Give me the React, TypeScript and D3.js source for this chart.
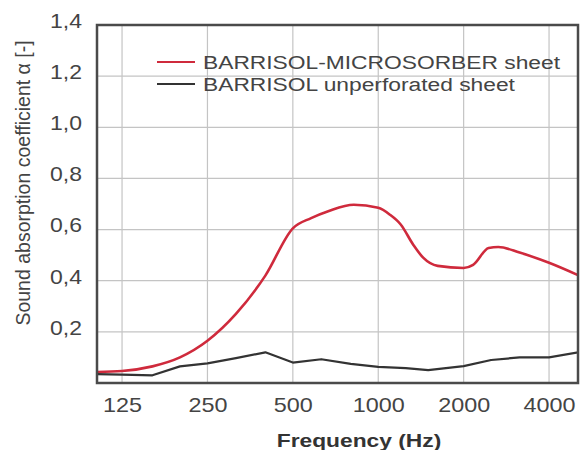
import React, { useEffect, useRef } from "react";
import * as d3 from "d3";

// octave band centres shown on the axis
const freqTicks = [125, 250, 500, 1000, 2000, 4000];
const alphaTicks = [0.2, 0.4, 0.6, 0.8, 1.0, 1.2, 1.4];

// BARRISOL-MICROSORBER sheet
const microFreq = [100, 125, 160, 200, 250, 315, 400, 500, 580, 670, 820, 1000, 1100, 1200, 1330, 1440, 1620, 2000, 2160, 2450, 2650, 3150, 4000, 5100];
const microAlpha = [0.043, 0.047, 0.065, 0.1, 0.165, 0.27, 0.42, 0.605, 0.645, 0.673, 0.697, 0.685, 0.658, 0.62, 0.54, 0.49, 0.458, 0.45, 0.462, 0.528, 0.532, 0.51, 0.47, 0.42];

// BARRISOL unperforated sheet
const plainFreq = [100, 125, 160, 200, 250, 315, 400, 500, 630, 800, 1000, 1250, 1500, 2000, 2500, 3150, 4000, 5100];
const plainAlpha = [0.035, 0.033, 0.03, 0.065, 0.077, 0.097, 0.12, 0.08, 0.093, 0.075, 0.063, 0.058, 0.05, 0.066, 0.09, 0.1, 0.1, 0.12];

const legendLabels = ["BARRISOL-MICROSORBER sheet", "BARRISOL unperforated sheet"];
const colors = ["#cf2a3c", "#333333"];

const W = 580;
const H = 450;
const m = { left: 97, top: 25, right: 578, bottom: 383 };
const FONT = "'Liberation Sans', Arial, sans-serif";

const App: React.FC = () => {
  const svgRef = useRef(null);

  useEffect(() => {
    const svg = d3.select(svgRef.current).attr("width", W).attr("height", H);
    svg.selectAll("*").remove();

    const x = d3.scaleLog().base(2).domain([102, 5060]).range([m.left, m.right]);
    const y = d3.scaleLinear().domain([0, 1.4]).range([m.bottom, m.top]);

    svg.append("rect").attr("width", W).attr("height", H).attr("fill", "#fff");

    // grid
    svg
      .append("g")
      .selectAll("line")
      .data(freqTicks)
      .enter()
      .append("line")
      .attr("x1", (d) => x(d))
      .attr("x2", (d) => x(d))
      .attr("y1", m.top)
      .attr("y2", m.bottom)
      .attr("stroke", "#c4c4c4")
      .attr("stroke-width", 1.2);
    svg
      .append("g")
      .selectAll("line")
      .data(alphaTicks)
      .enter()
      .append("line")
      .attr("x1", m.left)
      .attr("x2", m.right)
      .attr("y1", (d) => y(d))
      .attr("y2", (d) => y(d))
      .attr("stroke", "#c4c4c4")
      .attr("stroke-width", 1.2);

    // axes labels through d3 axes
    const xAxis = d3
      .axisBottom(x)
      .tickValues(freqTicks)
      .tickSize(0)
      .tickFormat((d) => String(d));
    const gx = svg.append("g").attr("transform", `translate(0, ${m.bottom})`).call(xAxis);
    gx.select(".domain").remove();
    gx.selectAll("text")
      .attr("y", 29)
      .attr("dy", 0)
      .attr("transform", "scale(1.17,1)")
      .style("font-family", FONT)
      .style("font-size", "20px")
      .style("fill", "#444");

    const yAxis = d3
      .axisLeft(y)
      .tickValues(alphaTicks)
      .tickSize(0)
      .tickFormat((d) => d3.format(".1f")(d as number).replace(".", ","));
    const gy = svg.append("g").attr("transform", `translate(${m.left - 15}, 0)`).call(yAxis);
    gy.select(".domain").remove();
    gy.selectAll("text")
      .attr("x", 0)
      .attr("dy", "0.12em")
      .attr("transform", "scale(1.15,1)")
      .style("font-family", FONT)
      .style("font-size", "20px")
      .style("fill", "#444");

    // curves
    svg
      .append("clipPath")
      .attr("id", "plotclip")
      .append("rect")
      .attr("x", m.left)
      .attr("y", m.top)
      .attr("width", m.right - m.left)
      .attr("height", m.bottom - m.top);

    const series = [
      { f: microFreq, a: microAlpha, curve: d3.curveMonotoneX, w: 2.6 },
      { f: plainFreq, a: plainAlpha, curve: d3.curveLinear, w: 2.2 },
    ];
    series.forEach((s, i) => {
      const pts: [number, number][] = s.f.map((f, k) => [f, s.a[k]]);
      const line = d3
        .line<[number, number]>()
        .x((d) => x(d[0]))
        .y((d) => y(d[1]))
        .curve(s.curve);
      svg
        .append("path")
        .attr("clip-path", "url(#plotclip)")
        .attr("d", line(pts))
        .attr("fill", "none")
        .attr("stroke", colors[i])
        .attr("stroke-width", s.w)
        .attr("stroke-linejoin", "round");
    });

    // frame
    svg
      .append("rect")
      .attr("x", m.left)
      .attr("y", m.top)
      .attr("width", m.right - m.left)
      .attr("height", m.bottom - m.top)
      .attr("fill", "none")
      .attr("stroke", "#4a4a4a")
      .attr("stroke-width", 2.5);

    // legend
    legendLabels.forEach((lab, i) => {
      const ly = 62 + i * 22;
      svg
        .append("line")
        .attr("x1", 157)
        .attr("x2", 195)
        .attr("y1", ly)
        .attr("y2", ly)
        .attr("stroke", colors[i])
        .attr("stroke-width", 2.2);
      svg
        .append("text")
        .attr("transform", `translate(203, ${ly + 7}) scale(1.2,1)`)
        .style("font-family", FONT)
        .style("font-size", "19px")
        .style("fill", "#444")
        .text(lab);
    });

    // axis titles
    svg
      .append("text")
      .attr("transform", "translate(359, 447) scale(1.2,1)")
      .attr("text-anchor", "middle")
      .style("font-family", FONT)
      .style("font-size", "19px")
      .style("font-weight", "bold")
      .style("fill", "#333")
      .text("Frequency (Hz)");

    svg
      .append("text")
      .attr("transform", "translate(30, 183) rotate(-90)")
      .attr("text-anchor", "middle")
      .style("font-family", FONT)
      .style("font-size", "19.5px")
      .style("fill", "#444")
      .text("Sound absorption coefficient α [-]");

    return () => {
      svg.selectAll("*").remove();
    };
  }, []);

  return <svg ref={svgRef} style={{ position: "absolute", left: 0, top: 0 }} />;
};

export default App;
